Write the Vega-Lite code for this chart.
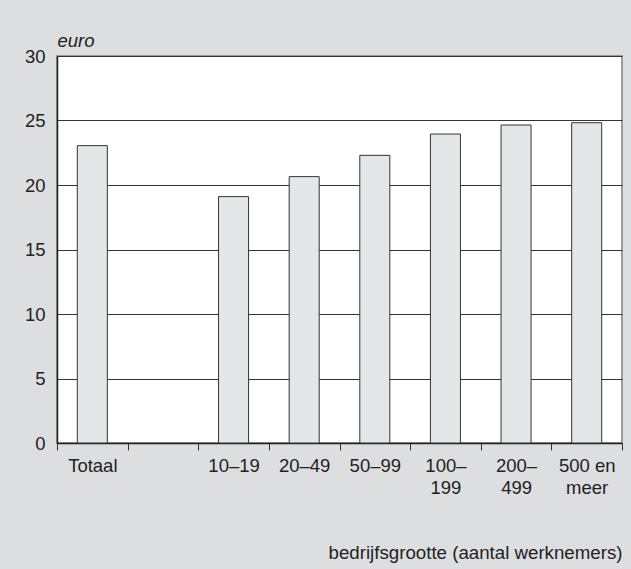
{
  "$schema": "https://vega.github.io/schema/vega-lite/v6.json",
  "width": 565,
  "height": 387,
  "autosize": {"type": "none"},
  "padding": {"left": 57, "top": 56, "right": 9, "bottom": 126},
  "background": "#dddee0",
  "config": {
    "font": "Liberation Sans",
    "view": {"fill": "white", "stroke": "#9a9a9a", "strokeWidth": 2}
  },
  "data": {
    "values": [
      {"groep": "Totaal", "euro": 23.05},
      {"groep": "10–19", "euro": 19.1},
      {"groep": "20–49", "euro": 20.65},
      {"groep": "50–99", "euro": 22.3},
      {"groep": "100–|199", "euro": 23.95},
      {"groep": "200–|499", "euro": 24.65},
      {"groep": "500 en|meer", "euro": 24.83}
    ]
  },
  "mark": {"type": "bar", "fill": "#e5e6e8", "stroke": "#333333", "strokeWidth": 1, "width": {"band": 0.425}},
  "encoding": {
    "x": {
      "field": "groep",
      "type": "nominal",
      "sort": null,
      "scale": {
        "domain": ["Totaal", " ", "10–19", "20–49", "50–99", "100–|199", "200–|499", "500 en|meer"],
        "paddingInner": 0,
        "paddingOuter": 0
      },
      "axis": {
        "title": "bedrijfsgrootte (aantal werknemers)",
        "titleFontSize": 18.7,
        "titleFontWeight": "normal",
        "titleColor": "#222222",
        "titleAnchor": "end",
        "titleAlign": "right",
        "titleBaseline": "alphabetic",
        "titleX": 565,
        "titleY": 115,
        "labelAngle": 0,
        "labelFontSize": 18.5,
        "labelColor": "#222222",
        "labelBaseline": "top",
        "labelPadding": 6,
        "labelLineHeight": 22,
        "labelExpr": "split(datum.label, '|')",
        "tickBand": "extent",
        "ticks": true,
        "tickSize": 7,
        "tickColor": "#333333",
        "domainColor": "#222222",
        "domainWidth": 1.5,
        "grid": false
      }
    },
    "y": {
      "field": "euro",
      "type": "quantitative",
      "scale": {"domain": [0, 30], "nice": false},
      "axis": {
        "title": "euro",
        "titleAngle": 0,
        "titleAlign": "left",
        "titleBaseline": "alphabetic",
        "titleX": 0,
        "titleY": -10,
        "titleFontStyle": "italic",
        "titleFontWeight": "normal",
        "titleFontSize": 18.5,
        "titleColor": "#222222",
        "values": [0, 5, 10, 15, 20, 25, 30],
        "labelFontSize": 18.5,
        "labelColor": "#222222",
        "labelPadding": 12,
        "ticks": false,
        "tickSize": 0,
        "grid": true,
        "gridColor": "#333333",
        "gridWidth": 1.2,
        "gridOpacity": 1,
        "domainColor": "#222222",
        "domainWidth": 1.5
      }
    }
  }
}
